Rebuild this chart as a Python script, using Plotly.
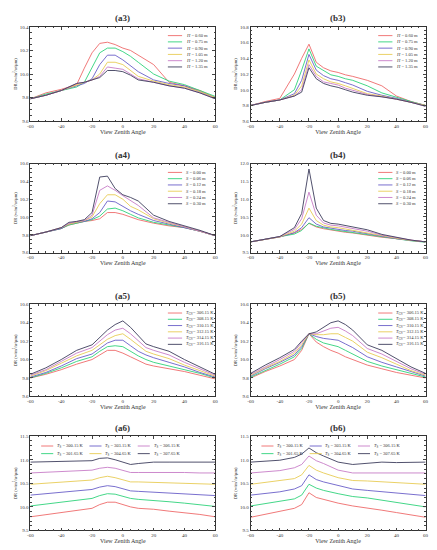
import plotly.graph_objects as go

COLORS = ['#ee6a6a', '#2fd27a', '#6a5fc8', '#e8cc55', '#c77dc7', '#3d3d5c']

# ---- (a3) ----
A3_X = [-60, -50, -40, -30, -25, -20, -15, -10, -5, 0, 5, 10, 20, 30, 40, 50, 60]
A3_LABELS = ['<i>H</i> = 0.60 m', '<i>H</i> = 0.75 m', '<i>H</i> = 0.90 m',
             '<i>H</i> = 1.05 m', '<i>H</i> = 1.20 m', '<i>H</i> = 1.35 m']
A3 = [
    [9.79, 9.84, 9.87, 9.91, 10.05, 10.18, 10.26, 10.27, 10.25, 10.22, 10.20, 10.16, 10.08, 9.93, 9.90, 9.86, 9.80],
    [9.79, 9.83, 9.86, 9.89, 9.93, 10.05, 10.18, 10.22, 10.22, 10.19, 10.15, 10.10, 10.00, 9.94, 9.91, 9.86, 9.81],
    [9.79, 9.82, 9.86, 9.90, 9.92, 9.96, 10.08, 10.16, 10.16, 10.12, 10.07, 10.02, 9.95, 9.92, 9.90, 9.85, 9.80],
    [9.79, 9.82, 9.86, 9.91, 9.93, 9.95, 10.00, 10.10, 10.10, 10.08, 10.03, 9.98, 9.94, 9.91, 9.89, 9.85, 9.80],
    [9.79, 9.82, 9.86, 9.92, 9.93, 9.95, 9.98, 10.06, 10.05, 10.04, 10.00, 9.96, 9.93, 9.90, 9.88, 9.84, 9.79],
    [9.79, 9.82, 9.86, 9.92, 9.93, 9.95, 9.97, 10.03, 10.03, 10.02, 9.99, 9.95, 9.93, 9.90, 9.88, 9.84, 9.79],
]

# ---- (b3) ----
B3_X = [-60, -50, -40, -30, -25, -20, -15, -10, -5, 0, 5, 10, 20, 30, 40, 50, 60]
B3 = [
    [9.80, 9.85, 9.89, 10.20, 10.40, 10.58, 10.35, 10.28, 10.24, 10.22, 10.19, 10.17, 10.12, 10.05, 9.92, 9.85, 9.80],
    [9.80, 9.84, 9.87, 10.00, 10.25, 10.52, 10.30, 10.24, 10.19, 10.17, 10.14, 10.12, 10.05, 9.96, 9.90, 9.85, 9.80],
    [9.80, 9.84, 9.87, 9.95, 10.12, 10.45, 10.25, 10.18, 10.14, 10.12, 10.09, 10.06, 9.98, 9.93, 9.89, 9.84, 9.80],
    [9.80, 9.84, 9.87, 9.93, 10.05, 10.38, 10.20, 10.14, 10.10, 10.08, 10.05, 10.02, 9.95, 9.92, 9.88, 9.84, 9.80],
    [9.80, 9.84, 9.87, 9.92, 10.00, 10.32, 10.17, 10.10, 10.08, 10.06, 10.02, 9.99, 9.94, 9.91, 9.88, 9.84, 9.79],
    [9.80, 9.84, 9.87, 9.92, 9.97, 10.28, 10.14, 10.08, 10.05, 10.03, 10.00, 9.97, 9.93, 9.91, 9.88, 9.84, 9.79],
]

# ---- (a4) ----
A4_X = [-60, -50, -40, -35, -30, -25, -20, -15, -10, -5, 0, 5, 10, 20, 30, 40, 50, 60]
A4_LABELS = ['<i>S</i> = 0.00 m', '<i>S</i> = 0.06 m', '<i>S</i> = 0.12 m',
             '<i>S</i> = 0.18 m', '<i>S</i> = 0.24 m', '<i>S</i> = 0.30 m']
A4 = [
    [9.79, 9.83, 9.87, 9.91, 9.93, 9.95, 9.96, 9.98, 10.05, 10.05, 10.03, 10.00, 9.97, 9.93, 9.90, 9.88, 9.84, 9.79],
    [9.79, 9.83, 9.87, 9.91, 9.93, 9.95, 9.97, 10.01, 10.09, 10.10, 10.07, 10.03, 9.99, 9.94, 9.91, 9.88, 9.84, 9.79],
    [9.79, 9.83, 9.87, 9.92, 9.94, 9.95, 9.98, 10.05, 10.18, 10.17, 10.12, 10.07, 10.03, 9.96, 9.92, 9.88, 9.84, 9.79],
    [9.79, 9.83, 9.88, 9.92, 9.94, 9.96, 10.00, 10.15, 10.25, 10.25, 10.20, 10.12, 10.08, 9.98, 9.93, 9.89, 9.84, 9.79],
    [9.79, 9.83, 9.88, 9.93, 9.95, 9.96, 10.02, 10.30, 10.35, 10.30, 10.24, 10.18, 10.13, 9.99, 9.94, 9.89, 9.84, 9.79],
    [9.79, 9.83, 9.88, 9.94, 9.95, 9.97, 10.05, 10.45, 10.46, 10.32, 10.25, 10.22, 10.18, 10.02, 9.95, 9.90, 9.85, 9.79],
]

# ---- (b4) ----
B4_X = [-60, -50, -40, -30, -25, -20, -15, -10, -5, 0, 5, 10, 20, 30, 40, 50, 60]
B4 = [
    [9.80, 9.87, 9.94, 10.05, 10.15, 10.32, 10.22, 10.17, 10.13, 10.10, 10.07, 10.05, 9.98, 9.93, 9.89, 9.84, 9.80],
    [9.80, 9.87, 9.93, 10.02, 10.12, 10.33, 10.24, 10.19, 10.15, 10.12, 10.09, 10.07, 10.00, 9.93, 9.88, 9.83, 9.79],
    [9.80, 9.87, 9.94, 10.06, 10.20, 10.48, 10.30, 10.22, 10.18, 10.15, 10.12, 10.10, 10.03, 9.95, 9.89, 9.84, 9.80],
    [9.80, 9.87, 9.94, 10.10, 10.30, 10.75, 10.40, 10.27, 10.22, 10.20, 10.16, 10.14, 10.06, 9.97, 9.90, 9.84, 9.80],
    [9.80, 9.87, 9.95, 10.15, 10.45, 11.20, 10.55, 10.33, 10.27, 10.25, 10.21, 10.19, 10.10, 9.99, 9.91, 9.85, 9.80],
    [9.80, 9.87, 9.95, 10.20, 10.60, 11.85, 10.75, 10.40, 10.32, 10.30, 10.26, 10.24, 10.14, 10.01, 9.92, 9.85, 9.80],
]

# ---- (a5) ----
A5_X = [-60, -50, -40, -30, -20, -15, -10, -5, 0, 5, 10, 15, 20, 30, 40, 50, 60]
A5_LABELS = ['<i>T</i><sub>GV</sub>= 306.15 K', '<i>T</i><sub>GV</sub>= 308.15 K',
             '<i>T</i><sub>GV</sub>= 310.15 K', '<i>T</i><sub>GV</sub>= 312.15 K',
             '<i>T</i><sub>GV</sub>= 314.15 K', '<i>T</i><sub>GV</sub>= 316.15 K']
A5 = [
    [9.80, 9.84, 9.89, 9.95, 10.00, 10.05, 10.10, 10.10, 10.07, 10.03, 9.99, 9.95, 9.93, 9.90, 9.87, 9.83, 9.79],
    [9.80, 9.85, 9.91, 9.98, 10.03, 10.09, 10.14, 10.15, 10.14, 10.09, 10.04, 10.00, 9.97, 9.93, 9.89, 9.85, 9.80],
    [9.81, 9.86, 9.93, 10.01, 10.06, 10.12, 10.18, 10.21, 10.21, 10.15, 10.09, 10.05, 10.02, 9.97, 9.92, 9.86, 9.81],
    [9.82, 9.88, 9.96, 10.04, 10.10, 10.16, 10.22, 10.26, 10.28, 10.22, 10.15, 10.09, 10.06, 10.01, 9.94, 9.88, 9.82],
    [9.83, 9.89, 9.98, 10.07, 10.13, 10.20, 10.27, 10.32, 10.34, 10.28, 10.20, 10.13, 10.10, 10.05, 9.97, 9.90, 9.83],
    [9.84, 9.91, 10.00, 10.10, 10.16, 10.24, 10.32, 10.38, 10.42, 10.35, 10.26, 10.17, 10.14, 10.09, 10.00, 9.92, 9.84],
]

# ---- (b5) ----
B5_X = [-60, -50, -40, -30, -25, -20, -15, -10, -5, 0, 5, 10, 20, 30, 40, 50, 60]
B5 = [
    [9.80, 9.87, 9.93, 10.00, 10.10, 10.28, 10.19, 10.14, 10.10, 10.07, 10.03, 10.00, 9.94, 9.90, 9.86, 9.83, 9.80],
    [9.81, 9.88, 9.95, 10.03, 10.12, 10.28, 10.22, 10.18, 10.16, 10.14, 10.10, 10.06, 9.98, 9.93, 9.89, 9.85, 9.81],
    [9.82, 9.90, 9.97, 10.05, 10.14, 10.28, 10.25, 10.23, 10.22, 10.21, 10.17, 10.13, 10.03, 9.97, 9.92, 9.87, 9.82],
    [9.83, 9.91, 9.98, 10.07, 10.16, 10.28, 10.27, 10.27, 10.28, 10.28, 10.24, 10.20, 10.08, 10.02, 9.95, 9.88, 9.83],
    [9.84, 9.92, 10.00, 10.09, 10.18, 10.28, 10.28, 10.31, 10.34, 10.35, 10.31, 10.26, 10.12, 10.06, 9.98, 9.90, 9.84],
    [9.85, 9.94, 10.02, 10.11, 10.20, 10.28, 10.30, 10.35, 10.40, 10.42, 10.38, 10.32, 10.16, 10.10, 10.01, 9.92, 9.85],
]

# ---- (a6) ----
A6_X = [-60, -40, -20, -15, -10, -5, 0, 5, 10, 20, 30, 40, 50, 60]
A6_LABELS = ['<i>T</i><sub>S</sub> = 300.15 K', '<i>T</i><sub>S</sub> = 301.65 K',
             '<i>T</i><sub>S</sub> = 303.15 K', '<i>T</i><sub>S</sub> = 304.65 K',
             '<i>T</i><sub>S</sub> = 306.15 K', '<i>T</i><sub>S</sub> = 307.65 K']
A6 = [
    [9.79, 9.88, 9.97, 10.05, 10.10, 10.10, 10.05, 10.00, 9.97, 9.95, 9.91, 9.88, 9.84, 9.79],
    [10.02, 10.10, 10.18, 10.24, 10.28, 10.27, 10.22, 10.18, 10.16, 10.14, 10.11, 10.08, 10.05, 10.01],
    [10.25, 10.31, 10.37, 10.42, 10.45, 10.43, 10.38, 10.34, 10.33, 10.31, 10.30, 10.28, 10.26, 10.24],
    [10.48, 10.53, 10.57, 10.62, 10.65, 10.62, 10.57, 10.53, 10.53, 10.52, 10.52, 10.51, 10.50, 10.48],
    [10.72, 10.75, 10.78, 10.82, 10.84, 10.82, 10.77, 10.73, 10.73, 10.73, 10.74, 10.73, 10.72, 10.72],
    [10.95, 10.97, 10.98, 11.03, 11.04, 11.00, 10.95, 10.90, 10.92, 10.95, 10.95, 10.95, 10.95, 10.95],
]

# ---- (b6) ----
B6_X = [-60, -40, -30, -25, -20, -15, -10, 0, 10, 20, 30, 40, 50, 60]
B6 = [
    [9.78, 9.90, 9.97, 10.05, 10.30, 10.20, 10.16, 10.08, 10.02, 9.98, 9.93, 9.88, 9.83, 9.78],
    [10.02, 10.11, 10.17, 10.25, 10.48, 10.40, 10.35, 10.28, 10.22, 10.19, 10.14, 10.10, 10.05, 10.00],
    [10.25, 10.32, 10.38, 10.45, 10.68, 10.58, 10.53, 10.45, 10.38, 10.35, 10.32, 10.30, 10.27, 10.24],
    [10.48, 10.55, 10.60, 10.68, 10.88, 10.78, 10.72, 10.62, 10.56, 10.55, 10.53, 10.52, 10.50, 10.48],
    [10.72, 10.77, 10.83, 10.90, 11.08, 10.98, 10.92, 10.78, 10.72, 10.72, 10.73, 10.72, 10.72, 10.72],
    [10.95, 10.99, 11.05, 11.12, 11.25, 11.15, 11.08, 10.95, 10.90, 10.93, 10.95, 10.94, 10.95, 10.95],
]

W, H = 437, 550
X_DOM = [[0.045, 0.474], [0.556, 0.962]]
Y_DOM = [[0.796, 0.969], [0.555, 0.718], [0.291, 0.460], [0.045, 0.218]]
X_TICKS = [-60, -40, -20, 0, 20, 40, 60]

panels = [
    ('(a3)', A3_X, A3, A3_LABELS, [9.6, 10.4], 0.2, 0, 0),
    ('(b3)', B3_X, B3, A3_LABELS, [9.6, 10.8], 0.2, 0, 1),
    ('(a4)', A4_X, A4, A4_LABELS, [9.6, 10.6], 0.2, 1, 0),
    ('(b4)', B4_X, B4, A4_LABELS, [9.5, 12.0], 0.5, 1, 1),
    ('(a5)', A5_X, A5, A5_LABELS, [9.6, 10.6], 0.2, 2, 0),
    ('(b5)', B5_X, B5, A5_LABELS, [9.6, 10.6], 0.2, 2, 1),
    ('(a6)', A6_X, A6, A6_LABELS, [9.5, 11.5], 0.5, 3, 0),
    ('(b6)', B6_X, B6, A6_LABELS, [9.5, 11.5], 0.5, 3, 1),
]

fig = go.Figure()
layout = {}
annotations = []
shapes = []
for i, (title, xs, series, labels, yr, dy, row, col) in enumerate(panels):
    n = i + 1
    xa = 'x' if n == 1 else 'x%d' % n
    ya = 'y' if n == 1 else 'y%d' % n
    wide = row == 3
    for k, ys in enumerate(series):
        fig.add_trace(go.Scatter(x=xs, y=ys, mode='lines', name=labels[k], showlegend=False,
                                 line=dict(color=COLORS[k], width=0.9),
                                 xaxis=xa, yaxis=ya))
        # hand-drawn legend entry (line sample + label) in paper space
        x0, x1 = X_DOM[col]
        top = Y_DOM[row][1]
        if wide:
            lx = x0 + 0.025 + (k // 2) * 0.112
            ly = top - 0.018 - (k % 2) * 0.014
            seg = 0.028
        else:
            lx = x1 - 0.11
            ly = top - 0.016 - k * 0.0115
            seg = 0.033
        shapes.append(dict(type='line', xref='paper', yref='paper', x0=lx, x1=lx + seg,
                           y0=ly, y1=ly, line=dict(color=COLORS[k], width=0.9)))
        annotations.append(dict(text=labels[k], xref='paper', yref='paper', x=lx + seg + 0.004,
                                y=ly, xanchor='left', yanchor='middle', showarrow=False,
                                font=dict(size=4.5)))
    ax = dict(domain=X_DOM[col], range=[-60.01, 60.01], tickvals=X_TICKS,
              ticktext=[str(t) for t in X_TICKS], ticks='inside', ticklen=3,
              mirror='ticks', showline=True, linecolor='#333', linewidth=0.6,
              showgrid=False, zeroline=False, tickfont=dict(size=5),
              minor=dict(ticks='inside', ticklen=1.5, dtick=5),
              title=dict(text='View Zenith Angle', font=dict(size=6), standoff=1),
              anchor=ya)
    ay = dict(domain=Y_DOM[row], range=yr, dtick=dy, ticks='inside', ticklen=3,
              mirror='ticks', showline=True, linecolor='#333', linewidth=0.6,
              showgrid=False, zeroline=False, tickfont=dict(size=5), tickformat='.1f',
              minor=dict(ticks='inside', ticklen=1.5),
              title=dict(text='DR (w/m<sup>2</sup>/sr/μm)', font=dict(size=4.5), standoff=2),
              anchor=xa)
    layout['xaxis' if n == 1 else 'xaxis%d' % n] = ax
    layout['yaxis' if n == 1 else 'yaxis%d' % n] = ay
    annotations.append(dict(text='<b>' + title + '</b>', xref='paper', yref='paper',
                            x=sum(X_DOM[col]) / 2, y=Y_DOM[row][1] + 0.003,
                            xanchor='center', yanchor='bottom', showarrow=False,
                            font=dict(size=9, family='Liberation Serif')))

fig.update_layout(**layout)
fig.update_layout(width=W, height=H, margin=dict(l=0, r=0, t=0, b=0),
                  paper_bgcolor='white', plot_bgcolor='white', showlegend=False,
                  font=dict(family='Liberation Serif', color='#333'),
                  annotations=annotations, shapes=shapes)
fig.write_html('out.html')
